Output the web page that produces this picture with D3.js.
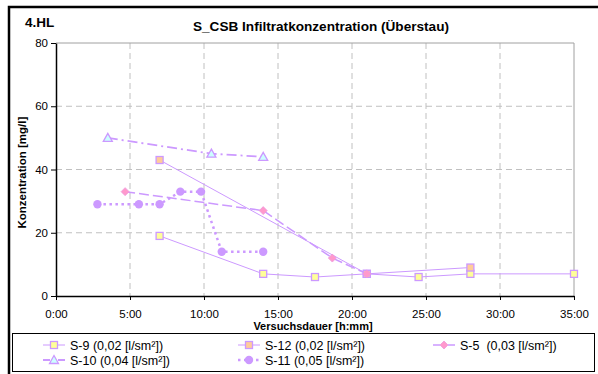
<!DOCTYPE html>
<html>
<head>
<meta charset="utf-8">
<script src="https://cdn.jsdelivr.net/npm/d3@7"></script>
<style>
body { margin: 0; background: #fff; }
svg { display: block; font-family: "Liberation Sans", Arial, sans-serif; }
</style>
</head>
<body>
<svg id="chart" width="598" height="374"></svg>
<script>
// data (hours, mg/l)
const xTicks = [0, 5, 10, 15, 20, 25, 30, 35];
const yTicks = [0, 20, 40, 60, 80];

const s9Hours = [7, 14, 17.5, 21, 24.5, 28, 35];
const s9Values = [19, 7, 6, 7, 6, 7, 7];

const s12Hours = [7, 21, 28];
const s12Values = [43, 7, 9];

const s5Hours = [4.67, 14, 18.67, 21];
const s5Values = [33, 27, 12, 7];

const s10Hours = [3.5, 10.5, 14];
const s10Values = [50, 45, 44];

const s11Hours = [2.8, 5.6, 7, 8.4, 9.8, 11.2, 14];
const s11Values = [29, 29, 29, 33, 33, 14, 14];

const seriesNames = ["S-9 (0,02 [l/sm²])", "S-12 (0,02 [l/sm²])", "S-5  (0,03 [l/sm²])",
                     "S-10 (0,04 [l/sm²])", "S-11 (0,05 [l/sm²])"];

const lineColor = "#cc99ff";

const series = [
    {name: seriesNames[0], x: s9Hours, y: s9Values, marker: "square", fill: "#ffff99", dash: null, width: 1},
    {name: seriesNames[1], x: s12Hours, y: s12Values, marker: "square", fill: "#ffcc99", dash: null, width: 1},
    {name: seriesNames[2], x: s5Hours, y: s5Values, marker: "diamond", fill: "#ff99cc", dash: "10,4", width: 1.5},
    {name: seriesNames[3], x: s10Hours, y: s10Values, marker: "triangle", fill: "#ccffff", dash: "10,4,2,4", width: 1.8},
    {name: seriesNames[4], x: s11Hours, y: s11Values, marker: "circle", fill: "#cc99ff", dash: "2.5,3.5", width: 2.5}
];

let dimensions = {
    width: 598,
    height: 374,
    margin: {top: 43, right: 24, bottom: 78, left: 56}
};

const svg = d3.select("#chart");

/** outer frame */
svg.append("rect")
    .attr("x", 9).attr("y", 7)
    .attr("width", 620).attr("height", 400)
    .attr("fill", "none").attr("stroke", "#000").attr("stroke-width", 2.5);

const xScale = d3.scaleLinear()
    .domain([0, 35])
    .range([dimensions.margin.left, dimensions.width - dimensions.margin.right]);
const yScale = d3.scaleLinear()
    .domain([0, 80])
    .range([dimensions.height - dimensions.margin.bottom, dimensions.margin.top]);

const fmtTime = h => `${Math.floor(h)}:${String(Math.round((h % 1) * 60)).padStart(2, "0")}`;

/** grid */
const grid = svg.append("g").attr("class", "grid");
grid.selectAll("line.v")
    .data(xTicks.slice(1, -1))
    .join("line")
    .attr("x1", d => xScale(d)).attr("x2", d => xScale(d))
    .attr("y1", yScale(80)).attr("y2", yScale(0))
    .attr("stroke", "#c0c0c0").attr("stroke-dasharray", "6,4");
grid.selectAll("line.h")
    .data(yTicks.slice(1, -1))
    .join("line")
    .attr("x1", xScale(0)).attr("x2", xScale(35))
    .attr("y1", d => yScale(d)).attr("y2", d => yScale(d))
    .attr("stroke", "#c0c0c0").attr("stroke-dasharray", "6,4");

// plot border top/right
svg.append("path")
    .attr("d", `M${xScale(0)},${yScale(80)}H${xScale(35)}V${yScale(0)}`)
    .attr("fill", "none").attr("stroke", "#a0a0a0").attr("stroke-width", 1);

/** axes */
const xAxisGroup = svg.append("g")
    .attr("transform", `translate(0, ${yScale(0)})`)
    .call(d3.axisBottom(xScale).tickValues(xTicks).tickFormat(fmtTime).tickSize(4).tickSizeOuter(0).tickPadding(10));
const yAxisGroup = svg.append("g")
    .attr("transform", `translate(${xScale(0)}, 0)`)
    .call(d3.axisLeft(yScale).tickValues(yTicks).tickSize(5).tickSizeOuter(0).tickPadding(3));

[xAxisGroup, yAxisGroup].forEach(g => {
    g.select(".domain").attr("stroke", "#000").attr("stroke-width", 1.5);
    g.selectAll(".tick line").attr("stroke", "#000");
    g.selectAll(".tick text").attr("font-size", 11.5).attr("fill", "#000")
        .attr("font-family", "Liberation Sans, Arial, sans-serif");
});

/** titles */
svg.append("text")
    .attr("x", 25).attr("y", 27)
    .attr("font-size", 13.5).attr("font-weight", "bold")
    .text("4.HL");
svg.append("text")
    .attr("x", 321).attr("y", 31)
    .attr("text-anchor", "middle")
    .attr("font-size", 13.6).attr("font-weight", "bold")
    .text("S_CSB Infiltratkonzentration (Überstau)");
svg.append("text")
    .attr("x", 313).attr("y", 330)
    .attr("text-anchor", "middle")
    .attr("font-size", 11).attr("font-weight", "bold")
    .text("Versuchsdauer [h:mm]");
svg.append("text")
    .attr("transform", `translate(26, ${yScale(39)}) rotate(-90)`)
    .attr("text-anchor", "middle")
    .attr("font-size", 11.5).attr("font-weight", "bold")
    .text("Konzentration [mg/l]");

/** markers */
function drawMarker(g, type, fill) {
    if (type === "square") {
        g.append("rect").attr("x", -3.5).attr("y", -3.5).attr("width", 7).attr("height", 7)
            .attr("fill", fill).attr("stroke", lineColor).attr("stroke-width", 1.3);
    } else if (type === "diamond") {
        g.append("path").attr("d", "M0,-4L4,0L0,4L-4,0Z")
            .attr("fill", fill).attr("stroke", "#ee99dd").attr("stroke-width", 0.8);
    } else if (type === "triangle") {
        g.append("path").attr("d", "M0,-4.5L4.5,3.5L-4.5,3.5Z")
            .attr("fill", fill).attr("stroke", lineColor).attr("stroke-width", 1.3);
    } else {
        g.append("circle").attr("r", 4.2).attr("fill", fill);
    }
}

const line = d3.line().x(d => xScale(d[0])).y(d => yScale(d[1]));
const plot = svg.append("g").attr("class", "series");

series.forEach(s => {
    const pts = s.x.map((h, i) => [h, s.y[i]]);
    plot.append("path")
        .datum(pts)
        .attr("d", line)
        .attr("fill", "none")
        .attr("stroke", lineColor)
        .attr("stroke-width", s.width)
        .attr("stroke-dasharray", s.dash);
});
series.forEach(s => {
    const pts = s.x.map((h, i) => [h, s.y[i]]);
    pts.forEach(p => {
        const g = plot.append("g").attr("transform", `translate(${xScale(p[0])}, ${yScale(p[1])})`);
        drawMarker(g, s.marker, s.fill);
    });
});

/** legend */
svg.append("rect")
    .attr("x", 12.5).attr("y", 333.5).attr("width", 582).attr("height", 38)
    .attr("fill", "#fff").attr("stroke", "#000").attr("stroke-width", 1);

const legendPos = [[43, 345], [238, 345], [433, 345], [43, 360], [238, 360]];
series.forEach((s, i) => {
    const [lx, ly] = legendPos[i];
    const lg = svg.append("g").attr("transform", `translate(${lx}, ${ly})`);
    lg.append("line").attr("x1", 0).attr("x2", 22).attr("y1", 0).attr("y2", 0)
        .attr("stroke", lineColor).attr("stroke-width", s.width)
        .attr("stroke-dasharray", s.dash ? (s.marker === "circle" ? "2.5,3.5" : "7,3,2,3") : null);
    const mg = lg.append("g").attr("transform", "translate(11,0)");
    drawMarker(mg, s.marker, s.fill);
    lg.append("text")
        .attr("x", 27).attr("y", 4.5)
        .attr("font-size", 12.5)
        .style("white-space", "pre")
        .text(s.name);
});
</script>
</body>
</html>
